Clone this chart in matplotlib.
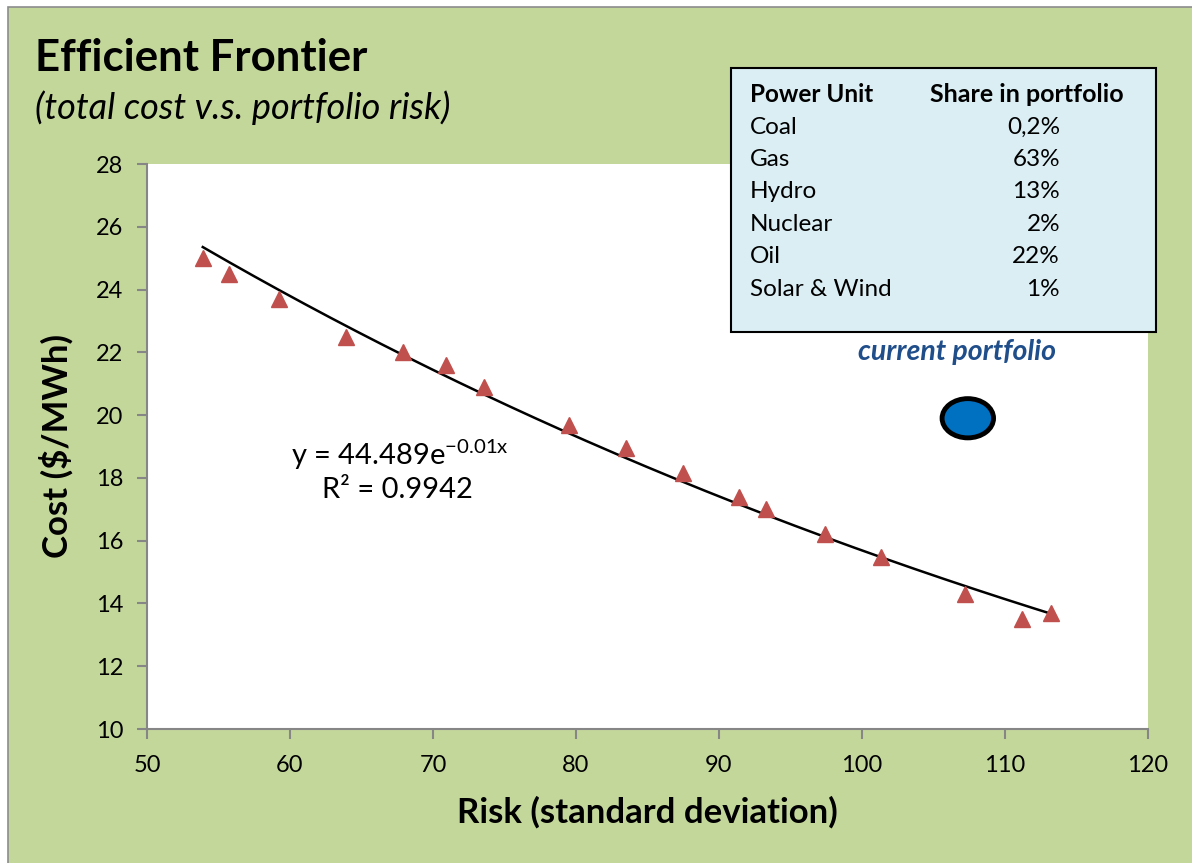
import matplotlib
matplotlib.use("Agg")
import matplotlib.pyplot as plt
from matplotlib.patches import Rectangle, Ellipse
import numpy as np

# ---- data ----
risk = [53.9, 55.7, 59.2, 63.9, 67.9, 70.9, 73.6, 79.5, 83.5, 87.5, 91.4, 93.3, 97.4, 101.3, 107.2, 111.2, 113.2]
cost = [25.0, 24.5, 23.7, 22.5, 22.0, 21.6, 20.9, 19.7, 18.95, 18.15, 17.4, 17.0, 16.2, 15.47, 14.29, 13.5, 13.69]

current_risk = 107.4
current_cost = 19.9

units = ["Coal", "Gas", "Hydro", "Nuclear", "Oil", "Solar & Wind"]
shares = ["0,2%", "63%", "13%", "2%", "22%", "1%"]

eq_text = "y = 44.489e$^{\\mathrm{-0.01x}}$"
r2_text = "R² = 0.9942"

W, H = 1192, 863
plt.rcParams['font.family'] = ['Lato', 'DejaVu Sans']
plt.rcParams['mathtext.fontset'] = 'custom'
plt.rcParams['mathtext.rm'] = 'Lato'

def px(x, y):
    return x / W, 1 - y / H

fig = plt.figure(figsize=(W / 100, H / 100), dpi=100, facecolor='white')

# green chart area with grey border at the top and left
bg = Rectangle(px(8, 870), 1.2, (870 - 7) / H, transform=fig.transFigure,
               facecolor='#c4d79b', edgecolor='#8c8c8c', linewidth=1.2, zorder=-1)
fig.patches.append(bg)

ax = fig.add_axes([147 / W, 1 - 729 / H, (1148 - 147) / W, (729 - 164) / H])
ax.set_zorder(1)
ax.set_facecolor('white')
ax.set_xlim(50, 120)
ax.set_ylim(10, 28)
ax.set_xticks(range(50, 121, 10))
ax.set_yticks(range(10, 29, 2))
for s in ['top', 'right']:
    ax.spines[s].set_visible(False)
for s in ['left', 'bottom']:
    ax.spines[s].set_color('#868686')
    ax.spines[s].set_linewidth(1.5)
ax.tick_params(axis='both', colors='#868686', labelcolor='black', length=7, width=1.5, labelsize=17)
ax.tick_params(axis='y', pad=10)
ax.tick_params(axis='x', pad=12)

# exponential trendline fitted like Excel does (linear fit of log y)
b, ln_a = np.polyfit(risk, np.log(cost), 1)
xs = np.linspace(min(risk), max(risk), 200)
ax.plot(xs, np.exp(ln_a) * np.exp(b * xs), color='black', lw=1.8, zorder=2)

ax.plot(risk, cost, linestyle='none', marker='^', markersize=11,
        color='#c0504d', markeredgecolor='#c0504d', zorder=3)

ax.add_patch(Ellipse((current_risk, current_cost), 3.6, 1.25, facecolor='#0070c0',
                     edgecolor='black', linewidth=3.5, zorder=4))

ax.set_xlabel("Risk (standard deviation)", fontsize=25, fontweight='bold', labelpad=14)
ax.set_ylabel("Cost ($/MWh)", fontsize=25, fontweight='bold', labelpad=16)

ax.text(*px(400, 455), eq_text, transform=fig.transFigure, fontsize=21, ha='center', va='center')
ax.text(*px(397, 490), r2_text, transform=fig.transFigure, fontsize=21, ha='center', va='center')

# titles
fig.text(*px(35, 58), "Efficient Frontier", fontsize=31.5, fontweight='bold', ha='left', va='center')
fig.text(*px(35, 108), "(total cost v.s. portfolio risk)", fontsize=26, style='italic', ha='left', va='center')

# share table
box = Rectangle(px(731, 332), (1156 - 731) / W, (332 - 68) / H, transform=fig.transFigure,
                facecolor='#daeef3', edgecolor='black', linewidth=1.5, zorder=5)
fig.patches.append(box)
fig.text(*px(750, 95), "Power Unit", fontsize=17.5, fontweight='bold', ha='left', va='center', zorder=6)
fig.text(*px(930, 95), "Share in portfolio", fontsize=18, fontweight='bold', ha='left', va='center', zorder=6)
for i, (u, s) in enumerate(zip(units, shares)):
    y = 127 + i * 32.4
    fig.text(*px(750, y), u, fontsize=17.5, ha='left', va='center', zorder=6)
    fig.text(*px(1060, y), s, fontsize=17.5, ha='right', va='center', zorder=6)

fig.text(*px(957, 352), "current portfolio", fontsize=20.5, fontweight='bold', style='italic',
         color='#1f4e8a', ha='center', va='center', zorder=6)

fig.savefig("out.png", dpi=100)
